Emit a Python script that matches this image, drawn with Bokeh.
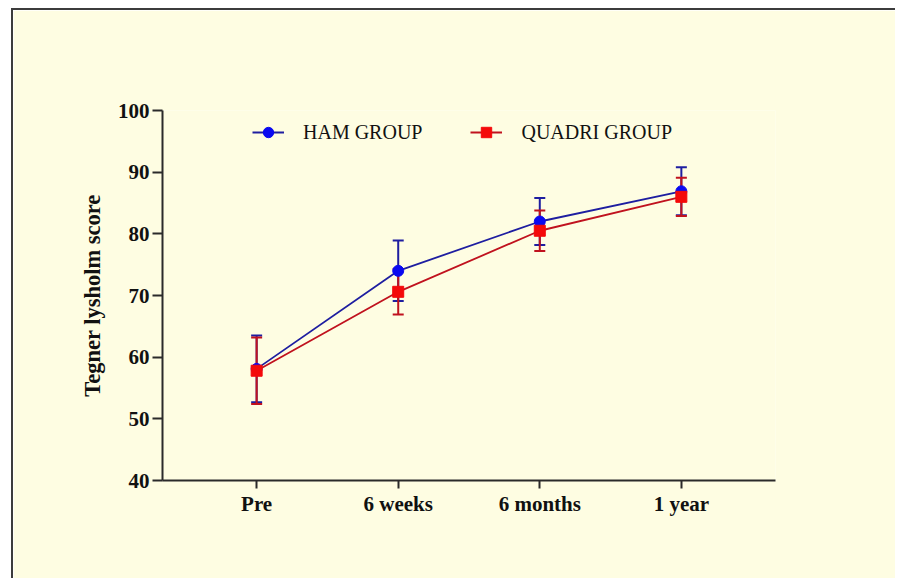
from bokeh.plotting import figure
from bokeh.models import (Range1d, FixedTicker, ColumnDataSource, Whisker, TeeHead,
                          Legend, LegendItem)
from bokeh.embed import file_html
from bokeh.resources import INLINE

# ---- data ----
categories = ["Pre", "6 weeks", "6 months", "1 year"]
ham_mean = [58.1, 74.0, 82.0, 86.9]
ham_sd = [5.4, 4.9, 3.8, 3.9]
quad_mean = [57.8, 70.6, 80.5, 86.0]
quad_sd = [5.4, 3.7, 3.3, 3.1]
y_ticks = [40, 50, 60, 70, 80, 90, 100]

xpos = list(range(1, len(categories) + 1))

BG = "#FEFDE2"
BLUE_LINE = "#1E1EA0"
BLUE_MARK = "#0A0AF0"
RED_LINE = "#C0121E"
RED_MARK = "#F40A0A"
AXIS = "#2a2a2a"
FONT = "Liberation Serif"

p = figure(width=884, height=570,
           x_range=Range1d(0.335, 4.665), y_range=Range1d(40, 100),
           output_backend="svg", toolbar_location=None,
           min_border_left=149, min_border_top=100,
           min_border_right=122, min_border_bottom=100,
           background_fill_color=BG, border_fill_color=BG,
           outline_line_color=None)
p.styles = {"border-top": "2px solid #3c3c3c", "border-left": "2px solid #3c3c3c",
            "border-right": "none", "border-bottom": "none",
            "margin-left": "11px", "margin-top": "8px"}
p.grid.visible = False

ham_src = ColumnDataSource(dict(x=xpos, y=ham_mean,
                                upper=[m + s for m, s in zip(ham_mean, ham_sd)],
                                lower=[m - s for m, s in zip(ham_mean, ham_sd)]))
quad_src = ColumnDataSource(dict(x=xpos, y=quad_mean,
                                 upper=[m + s for m, s in zip(quad_mean, quad_sd)],
                                 lower=[m - s for m, s in zip(quad_mean, quad_sd)]))

for src, col in ((ham_src, BLUE_LINE), (quad_src, RED_LINE)):
    w = Whisker(base="x", upper="upper", lower="lower", source=src,
                line_color=col, line_width=2,
                upper_head=TeeHead(size=11, line_color=col, line_width=2),
                lower_head=TeeHead(size=11, line_color=col, line_width=2))
    p.add_layout(w)

hl = p.line("x", "y", source=ham_src, line_color=BLUE_LINE, line_width=1.8)
hs = p.scatter("x", "y", source=ham_src, marker="circle", size=11,
               fill_color=BLUE_MARK, line_color=BLUE_MARK)
ql = p.line("x", "y", source=quad_src, line_color=RED_LINE, line_width=1.8)
qs = p.scatter("x", "y", source=quad_src, marker="square", size=11,
               fill_color=RED_MARK, line_color=RED_MARK)

legend = Legend(items=[LegendItem(label="HAM GROUP", renderers=[hl, hs]),
                       LegendItem(label="QUADRI GROUP", renderers=[ql, qs])],
                orientation="horizontal", location=(90, 335),
                padding=0, margin=0, spacing=48,
                glyph_width=32, glyph_height=26, label_height=20,
                label_standoff=19, label_text_font=FONT,
                label_text_font_size="20px", label_text_color="#111111",
                border_line_color=None, background_fill_alpha=0)
p.add_layout(legend)

# axes
p.xaxis.ticker = FixedTicker(ticks=xpos)
p.xaxis.major_label_overrides = {i: c for i, c in zip(xpos, categories)}
p.yaxis.ticker = FixedTicker(ticks=y_ticks)
p.yaxis.axis_label = "Tegner lysholm score"

for ax in (p.xaxis[0], p.yaxis[0]):
    ax.axis_line_color = AXIS
    ax.axis_line_width = 2
    ax.major_tick_line_color = AXIS
    ax.major_tick_line_width = 2
    ax.major_tick_in = 0
    ax.minor_tick_line_color = None
    ax.major_label_text_font = FONT
    ax.major_label_text_font_style = "bold"
    ax.major_label_text_font_size = "21px"
    ax.major_label_text_color = "#111111"

p.xaxis.major_tick_out = 8
p.xaxis.major_label_standoff = 3
p.yaxis.major_tick_out = 10
p.yaxis.major_label_standoff = 3
p.yaxis.axis_label_text_font = FONT
p.yaxis.axis_label_text_font_style = "bold"
p.yaxis.axis_label_text_font_size = "22.5px"
p.yaxis.axis_label_text_color = "#111111"
p.yaxis.axis_label_standoff = 10

open("out.html", "w").write(file_html(p, INLINE))
